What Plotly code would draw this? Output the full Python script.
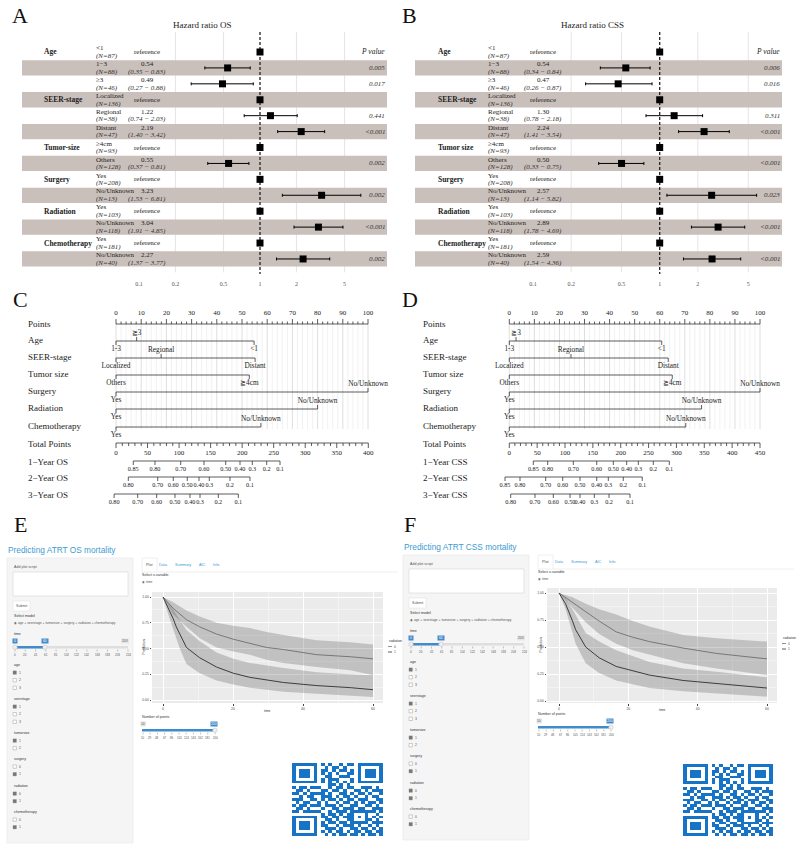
import plotly.graph_objects as go

W, H = 798, 850
SERIF = 'Liberation Serif'
SANS = 'Liberation Sans'

# ---------------------------------------------------------------- data
levels = ['<1', '1−3', '≥3', 'Localized', 'Regional', 'Distant', '≥4cm', 'Others',
          'Yes', 'No/Unknown', 'Yes', 'No/Unknown', 'Yes', 'No/Unknown']
n_obs = [87, 88, 46, 136, 38, 47, 93, 128, 208, 13, 103, 118, 181, 40]
var_first_row = [1, 4, 7, 9, 11, 13]
vars_A = ['Age', 'SEER-stage', 'Tumor-size', 'Surgery', 'Radiation', 'Chemotherapy']
vars_B = ['Age', 'SEER-stage', 'Tumor size', 'Surgery', 'Radiation', 'Chemotherapy']
hr_os = [1, 0.54, 0.49, 1, 1.22, 2.19, 1, 0.55, 1, 3.23, 1, 3.04, 1, 2.27]
lo_os = [None, 0.35, 0.27, None, 0.74, 1.40, None, 0.37, None, 1.53, None, 1.91, None, 1.37]
hi_os = [None, 0.83, 0.88, None, 2.03, 3.42, None, 0.81, None, 6.81, None, 4.85, None, 3.77]
p_os = ['', '0.005', '0.017', '', '0.441', '<0.001', '', '0.002', '', '0.002', '', '<0.001', '', '0.002']
hr_css = [1, 0.54, 0.47, 1, 1.30, 2.24, 1, 0.50, 1, 2.57, 1, 2.89, 1, 2.59]
lo_css = [None, 0.34, 0.26, None, 0.78, 1.41, None, 0.33, None, 1.14, None, 1.78, None, 1.54]
hi_css = [None, 0.84, 0.87, None, 2.18, 3.54, None, 0.75, None, 5.82, None, 4.69, None, 4.36]
p_css = ['', '0.006', '0.016', '', '0.311', '<0.001', '', '<0.001', '', '0.023', '', '<0.001', '', '<0.001']
hr_ticks = [0.1, 0.2, 0.5, 1, 2, 5]
hr_tick_text = ['0.1', '0.2', '0.5', '1', '2', '5']
hr_grid = [0.2, 0.5, 2, 5]

nom_vars = ['Age', 'SEER-stage', 'Tumor size', 'Surgery', 'Radiation', 'Chemotherapy']
nom_levels = [['1-3', '≧3', '<1'], ['Localized', 'Regional', 'Distant'], ['Others', '≧4cm'],
              ['Yes', 'No/Unknown'], ['Yes', 'No/Unknown'], ['Yes', 'No/Unknown']]
nom_pts_C = [[0, 8.2, 54.8], [0, 17.9, 55.2], [0, 52.9], [0, 100], [0, 80.0], [0, 57.5]]
nom_pts_D = [[0, 2.7, 60.8], [0, 24.6, 63.4], [0, 65.0], [0, 100], [0, 76.7], [0, 70.4]]
surv_lab9 = ['0.85', '0.80', '0.70', '0.60', '0.50', '0.40', '0.3', '0.2', '0.1']
surv_lab8 = ['0.80', '0.70', '0.60', '0.50', '0.40', '0.3', '0.2', '0.1']
os1_tot = [27.4, 61.8, 102.6, 139.5, 173.9, 196.6, 216.1, 238.9, 260.0]
os2_tot = [19.5, 66.1, 90.8, 113.0, 131.6, 147.9, 180.7, 212.4]
os3_tot = [-3.0, 34.4, 64.5, 93.5, 117.3, 133.2, 162.2, 193.9]
css1_tot = [43.1, 68.9, 114.9, 156.9, 186.7, 210.7, 231.6, 258.5, 287.2]
css2_tot = [-7.7, 19.2, 65.3, 95.9, 126.9, 156.9, 177.7, 204.6, 238.7]
css3_tot = [2.5, 46.1, 79.0, 109.0, 126.9, 152.6, 179.0, 216.7]

os_t_hi = [0, 2.9, 6.7, 10.5, 15.3, 20.1, 24.8, 29.6, 34.4, 43.9, 53.5, 60]
os_s_hi = [1.0, 0.89, 0.78, 0.71, 0.64, 0.59, 0.55, 0.51, 0.49, 0.44, 0.42, 0.40]
os_u_hi = [1.0, 0.95, 0.87, 0.81, 0.75, 0.72, 0.70, 0.66, 0.63, 0.58, 0.56, 0.54]
os_l_hi = [1.0, 0.83, 0.71, 0.60, 0.51, 0.47, 0.44, 0.39, 0.36, 0.32, 0.29, 0.24]
os_t_lo = [0, 1.0, 1.9, 2.9, 3.8, 4.8, 6.7, 10.5, 15.3, 20.1, 24.8, 34.4, 43.9, 53.5, 60]
os_s_lo = [1.0, 0.93, 0.86, 0.79, 0.71, 0.64, 0.51, 0.41, 0.32, 0.26, 0.22, 0.17, 0.14, 0.12, 0.10]
os_u_lo = [1.0, 0.96, 0.92, 0.88, 0.83, 0.78, 0.68, 0.57, 0.46, 0.40, 0.36, 0.31, 0.27, 0.25, 0.24]
os_l_lo = [1.0, 0.89, 0.79, 0.69, 0.59, 0.50, 0.35, 0.26, 0.19, 0.15, 0.12, 0.08, 0.06, 0.04, 0.03]
css_t_hi = [0, 3.9, 7.7, 11.6, 16.5, 21.3, 26.1, 35.8, 45.5, 60]
css_s_hi = [1.0, 0.91, 0.83, 0.74, 0.64, 0.59, 0.55, 0.49, 0.44, 0.39]
css_u_hi = [1.0, 0.96, 0.90, 0.85, 0.80, 0.74, 0.69, 0.61, 0.58, 0.55]
css_l_hi = [1.0, 0.86, 0.73, 0.62, 0.53, 0.47, 0.43, 0.35, 0.30, 0.24]
css_t_lo = [0, 1.9, 3.9, 4.8, 7.7, 11.6, 16.5, 26.1, 35.8, 45.5, 60]
css_s_lo = [1.0, 0.90, 0.74, 0.66, 0.50, 0.40, 0.32, 0.24, 0.19, 0.16, 0.12]
css_u_lo = [1.0, 0.95, 0.85, 0.80, 0.63, 0.55, 0.47, 0.36, 0.30, 0.27, 0.22]
css_l_lo = [1.0, 0.85, 0.63, 0.53, 0.35, 0.26, 0.19, 0.12, 0.09, 0.07, 0.04]
km_xticks = [0, 20, 40, 60]
km_yticks = [0, 0.25, 0.5, 0.75, 1.0]
km_ytext = ['0.00', '0.25', '0.50', '0.75', '1.00']

cb_groups = ['age', 'seerstage', 'tumorsize', 'surgery', 'radiation', 'chemotherapy']
cb_options = [['1', '2', '3'], ['1', '2', '3'], ['1', '2'], ['0', '1'], ['0', '1'], ['0', '1']]
cb_checked = [[1, 0, 0], [1, 0, 0], [1, 0], [0, 1], [1, 1], [0, 1]]
time_slider_labels = ['0', '20', '41', '61', '81', '102', '122', '142', '163', '183', '203', '224']
npts_slider_labels = ['10', '29', '48', '67', '86', '105', '124', '143', '162', '181', '200']
tabs = ['Plot', 'Data', 'Summary', 'AIC', 'Info']

qr_rows = [
    "1011010110100101101011010", "0110101101011010010110101", "1101100011010110101001011",
    "0010111010101001110110100", "1100101101100111001011011", "0111010010111000110100101",
    "1010101010101010101010101", "0101110100110101011010010", "1011011100101101100111010",
    "0110100011011010011010111", "1101011110100110101101001", "0010110011101011010010110",
    "1110011010110101101110011", "0101100101001011010101101", "1011011101110100110011010",
    "0110101010011011101100111", "1101110100101110010011101", "0100101110110101100010010",
    "1011010011011011010110101", "0110111001101001101101010", "1001010110110110010110111",
    "0111101011001011101001010", "1100110101110100110110101", "0011011010101101011011011",
    "1101101101010110110101101"]

# ---------------------------------------------------------------- helpers
def fx(x): return x / W
def fy(y): return 1 - y / H

fig = go.Figure()
ann, shp, lay = [], [], {}

def T(x, y, s, size=7, color='#222222', family=SERIF, xa='center', ya='middle', angle=0):
    ann.append(dict(x=fx(x), y=fy(y), xref='paper', yref='paper', text=s, showarrow=False,
                    xanchor=xa, yanchor=ya, textangle=angle, borderpad=0,
                    font=dict(size=size, color=color, family=family)))

def R(x0, y0, x1, y1, fill='rgba(0,0,0,0)', line=None, lw=0.6, layer='below'):
    shp.append(dict(type='rect', xref='paper', yref='paper', x0=fx(x0), x1=fx(x1), y0=fy(y1), y1=fy(y0),
                    fillcolor=fill, line=dict(color=line if line else 'rgba(0,0,0,0)', width=lw if line else 0),
                    layer=layer))

def L(x0, y0, x1, y1, color, lw=1, layer='above'):
    shp.append(dict(type='line', xref='paper', yref='paper', x0=fx(x0), x1=fx(x1), y0=fy(y0), y1=fy(y1),
                    line=dict(color=color, width=lw), layer=layer))

def an(p, k): return p if k == 1 else f'{p}{k}'

def add(tr):
    tr.update(hoverinfo='skip', showlegend=False)
    fig.add_trace(tr)

# ---------------------------------------------------------------- forest plots
ROW0, ROWH = 52.0, 15.92
def row_y(r): return ROW0 + (r - 1) * ROWH
R_TOP = 1 - (ROW0 - 32) / ROWH
R_BOT = 1 + (274 - ROW0) / ROWH
BAND = '#c9bfbb'

def forest(k, px0, px1, px_one, px_dec, hr, lo, hi, pv, varnames, c_var, c_lvl, c_est, c_p, title, title_x):
    xr, yr = an('x', k), an('y', k)
    lg0, lg1 = (px0 - px_one) / px_dec, (px1 - px_one) / px_dec
    v0, v1 = 10 ** lg0, 10 ** lg1
    rows = list(range(1, len(hr) + 1))
    gx, gy = [], []
    for g in hr_grid:
        gx += [g, g, None]; gy += [R_TOP, R_BOT - 0.1, None]
    add(go.Scatter(x=gx, y=gy, mode='lines', line=dict(color='#e4e4e4', width=1), xaxis=xr, yaxis=yr))
    bx, by = [], []
    for r in rows:
        if r % 2 == 0:
            bx += [v0, v1, v1, v0, v0, None]
            by += [r - 0.48, r - 0.48, r + 0.48, r + 0.48, r - 0.48, None]
    add(go.Scatter(x=bx, y=by, mode='lines', fill='toself', fillcolor=BAND, line=dict(width=0),
                   xaxis=xr, yaxis=yr))
    add(go.Scatter(x=[1, 1], y=[R_TOP, R_BOT], mode='lines', line=dict(color='#222', width=1.3, dash='3px,2px'),
                   xaxis=xr, yaxis=yr))
    ref_r = [r for r, l in zip(rows, lo) if l is None]
    add(go.Scatter(x=[1] * len(ref_r), y=ref_r, mode='markers', marker=dict(symbol='square', size=7, color='black'),
                   xaxis=xr, yaxis=yr))
    er = [r for r, l in zip(rows, lo) if l is not None]
    eh = [h for h, l in zip(hr, lo) if l is not None]
    el = [l for l in lo if l is not None]
    eu = [u for u in hi if u is not None]
    add(go.Scatter(x=eh, y=er, mode='markers', marker=dict(symbol='square', size=7, color='black'),
                   error_x=dict(type='data', symmetric=False, array=[u - h for u, h in zip(eu, eh)],
                                arrayminus=[h - l for h, l in zip(eh, el)], color='black', thickness=1, width=1.5),
                   xaxis=xr, yaxis=yr))
    lay[an('xaxis', k)] = dict(type='log', range=[lg0, lg1], domain=[fx(px0), fx(px1)], anchor=yr,
                               tickvals=hr_ticks, ticktext=hr_tick_text, showgrid=False, zeroline=False,
                               showline=False, ticks='', ticklabelstandoff=5,
                               tickfont=dict(size=6, family=SERIF, color='#555'))
    lay[an('yaxis', k)] = dict(range=[R_BOT, R_TOP], domain=[fy(274), fy(32)], anchor=xr, visible=False)
    T(title_x, 25, title, size=9)
    for i, r in enumerate(rows):
        y = row_y(r)
        T(c_lvl, y - 3.8, levels[i], size=7, xa='left')
        T(c_lvl, y + 3.8, f'<i>(N={n_obs[i]})</i>', size=7, xa='left', color='#333')
        if lo[i] is None:
            T(c_est, y, 'reference', size=7)
        else:
            T(c_est, y - 3.8, f'{hr[i]:.2f}', size=7)
            T(c_est, y + 3.8, f'<i>({lo[i]:.2f} − {hi[i]:.2f})</i>', size=7, color='#333')
        if pv[i]:
            T(c_p, y, f'<i>{pv[i]}</i>', size=7, xa='right', color='#333')
    T(c_p, row_y(1), '<i>P value</i>', size=7.5, xa='right')
    for name, r in zip(varnames, var_first_row):
        T(c_var, row_y(r), f'<b>{name}</b>', size=7.5, xa='left')

forest(1, 22, 387, 260, 121, hr_os, lo_os, hi_os, p_os, vars_A, 43, 95, 147, 386, 'Hazard ratio OS', 202)
forest(2, 415, 782, 659.7, 126.7, hr_css, lo_css, hi_css, p_css, vars_B, 437, 487, 543, 781, 'Hazard ratio CSS', 592)

# ---------------------------------------------------------------- nomograms
NY = dict(points=324, total=443)
VAR_Y = [341, 358, 375, 392, 409, 427]
SURV_Y = [461, 477, 494]
SIDES = [['b', 'a', 'b'], ['b', 'a', 'b'], ['b', 'b'], ['b', 'a'], ['b', 'a'], ['b', 'a']]

def txt(xa, ya, xs, ys, ts, size=7.5, color='#222'):
    add(go.Scatter(x=xs, y=ys, text=ts, mode='text', textposition='middle center', cliponaxis=False,
                   textfont=dict(size=size, family=SERIF, color=color), xaxis=xa, yaxis=ya))

def lines(xa, ya, segs, color='#222', lw=0.8):
    xs, ys = [], []
    for (x0, y0, x1, y1) in segs:
        xs += [x0, x1, None]; ys += [y0, y1, None]
    add(go.Scatter(x=xs, y=ys, mode='lines', line=dict(color=color, width=lw), xaxis=xa, yaxis=ya))

def nomogram(kp, kt, ky, p0, p100, tmax, tmax_px, lab_x, pts, tmajor, surv_tot, surv_labs, surv_names):
    left, right = p0 - 18, p100 + 24
    ppp = (p100 - p0) / 100.0
    ppt = (tmax_px - p0) / tmax
    xp, xt, yy = an('x', kp), an('x', kt), an('y', ky)
    dom = [fx(left), fx(right)]
    lay[an('xaxis', kp)] = dict(domain=dom, range=[(left - p0) / ppp, (right - p0) / ppp], anchor=yy, visible=False)
    lay[an('xaxis', kt)] = dict(domain=dom, range=[(left - p0) / ppt, (right - p0) / ppt], anchor=yy,
                                overlaying=xp, visible=False)
    lay[an('yaxis', ky)] = dict(domain=[fy(512), fy(300)], range=[512, 300], anchor=xp, visible=False)
    # grid
    lines(xp, yy, [(v, NY['points'], v, 429) for v in range(0, 101, 2) if v % 10], color='#eeeeee', lw=0.8)
    lines(xp, yy, [(v, NY['points'], v, 429) for v in range(0, 101, 10)], color='#d6d6d6', lw=0.8)
    # points axis
    yP = NY['points']
    lines(xp, yy, [(0, yP, 100, yP)] + [(v, yP, v, yP - 5) for v in range(0, 101, 10)]
          + [(v, yP, v, yP - 2.5) for v in range(0, 101, 2) if v % 10], color='#333', lw=0.8)
    txt(xp, yy, list(range(0, 101, 10)), [yP - 11] * 11, [str(v) for v in range(0, 101, 10)], size=7)
    T(lab_x, yP, 'Points', size=9, xa='left')
    # predictors
    for i, name in enumerate(nom_vars):
        y = VAR_Y[i]
        segs = [(min(pts[i]), y, max(pts[i]), y)]
        tx, ty = [], []
        for v, s in zip(pts[i], SIDES[i]):
            if s == 'a':
                segs.append((v, y, v, y - 4)); ty.append(y - 8)
            else:
                segs.append((v, y, v, y + 4)); ty.append(y + 8.5)
            tx.append(v)
        lines(xp, yy, segs, color='#333', lw=0.8)
        txt(xp, yy, tx, ty, nom_levels[i], size=7.3)
        T(lab_x, y - 1, name, size=9, xa='left')
    # total points axis
    yT = NY['total']
    tv = list(range(0, tmax + 1, tmajor))
    lines(xt, yy, [(0, yT, tmax, yT)] + [(v, yT, v, yT + 5) for v in tv]
          + [(v, yT, v, yT + 3) for v in range(0, tmax + 1, 10) if v % tmajor], color='#333', lw=0.8)
    txt(xt, yy, tv, [yT + 10] * len(tv), [str(v) for v in tv], size=7)
    T(lab_x, yT + 1, 'Total Points', size=9, xa='left')
    for j in range(3):
        y = SURV_Y[j]
        vals = surv_tot[j]
        lines(xt, yy, [(min(vals), y, max(vals), y)] + [(v, y, v, y + 4) for v in vals], color='#333', lw=0.8)
        txt(xt, yy, vals, [y + 8.5] * len(vals), surv_labs[j], size=6.2)
        T(lab_x, y + 1, surv_names[j], size=9, xa='left')

nomogram(3, 4, 3, 116, 368, 400, 368.3, 27, nom_pts_C, 50,
         [os1_tot, os2_tot, os3_tot], [surv_lab9, surv_lab8, surv_lab8],
         ['1−Year OS', '2−Year OS', '3−Year OS'])
nomogram(5, 6, 5, 509.3, 760, 450, 760, 422, nom_pts_D, 50,
         [css1_tot, css2_tot, css3_tot], [surv_lab9, surv_lab9, surv_lab8],
         ['1−Year CSS', '2−Year CSS', '3−Year CSS'])

# ---------------------------------------------------------------- shiny panels
BLUE = '#3d9bd0'
SL_BLUE = '#428bca'
UI = '#555555'

def shiny(dx, dy, title, legend_x):
    X = lambda x: x + dx
    Y = lambda y: y + dy
    T(X(7), Y(550), title, size=8.3, color=BLUE, family=SANS, xa='left')
    R(X(7), Y(558), X(133), Y(843), fill='#f5f5f5', line='#e6e6e6', lw=0.6)
    T(X(13), Y(567), 'Add plot script', size=3.6, family=SANS, xa='left', color=UI)
    R(X(13), Y(572), X(128), Y(596), fill='white', line='#cccccc', lw=0.5)
    R(X(13), Y(601), X(30), Y(611), fill='white', line='#dddddd', lw=0.5)
    T(X(21.5), Y(606), 'Submit', size=3.6, family=SANS, color=UI)
    T(X(13), Y(616), 'Select model', size=3.6, family=SANS, xa='left', color='#333')
    T(X(13), Y(623), '◉ age + seerstage + tumorsize + surgery + radiation + chemotherapy', size=3.3,
      family=SANS, xa='left', color=UI)
    T(X(13), Y(634), 'time', size=3.6, family=SANS, xa='left', color='#333')
    # time slider
    R(X(15), Y(646), X(128), Y(648.5), fill='#dedede')
    R(X(15), Y(646), X(45), Y(648.5), fill=SL_BLUE)
    R(X(12.5), Y(638.5), X(17.5), Y(643.5), fill=SL_BLUE); T(X(15), Y(641), '0', size=3.3, family=SANS, color='white')
    R(X(41.5), Y(638.5), X(48.5), Y(643.5), fill=SL_BLUE); T(X(45), Y(641), '60', size=3.3, family=SANS, color='white')
    R(X(121), Y(638.5), X(129), Y(643.5), fill='#e6e6e6'); T(X(125), Y(641), '203', size=3.3, family=SANS, color=UI)
    n = len(time_slider_labels)
    for i, s in enumerate(time_slider_labels):
        xx = 15 + i * (128 - 15) / (n - 1)
        L(X(xx), Y(649.5), X(xx), Y(651.5), '#888', lw=0.5)
        T(X(xx), Y(654.5), s, size=3.0, family=SANS, color=UI)
    for hx in (15, 45):
        shp.append(dict(type='circle', xref='paper', yref='paper', x0=fx(X(hx) - 2.2), x1=fx(X(hx) + 2.2),
                        y0=fy(Y(647.2) + 2.2), y1=fy(Y(647.2) - 2.2), fillcolor='#f0f0f0',
                        line=dict(color='#bbbbbb', width=0.5), layer='above'))
    # checkbox groups
    gy = [665, 699, 733, 759, 786, 812]
    for g, name in enumerate(cb_groups):
        T(X(13), Y(gy[g]), name, size=3.6, family=SANS, xa='left', color='#333')
        for j, opt in enumerate(cb_options[g]):
            yy = gy[g] + 7.6 * (j + 1)
            R(X(13), Y(yy) - 1.7, X(16.4), Y(yy) + 1.7, fill='#777777' if cb_checked[g][j] else 'white',
              line='#888888', lw=0.4, layer='above')
            T(X(18), Y(yy), opt, size=3.4, family=SANS, xa='left', color=UI)
    # tabs
    R(X(142), Y(558), X(157), Y(572), fill='white', line='#dddddd', lw=0.5)
    L(X(157), Y(572), X(398), Y(572), '#dddddd', lw=0.5)
    for s, tx in zip(tabs, [149.5, 163.5, 183, 202, 216]):
        T(X(tx), Y(565), s, size=3.8, family=SANS, color='#555' if s == 'Plot' else BLUE)
    T(X(141), Y(574.5), 'Select x-variable', size=3.6, family=SANS, xa='left', color='#333')
    T(X(141), Y(582), '◉ time', size=3.4, family=SANS, xa='left', color=UI)
    # number of points slider
    T(X(141), Y(717), 'Number of points', size=3.6, family=SANS, xa='left', color='#333')
    R(X(142), Y(729), X(216), Y(731.5), fill=SL_BLUE)
    R(X(140.5), Y(721.5), X(146), Y(726.5), fill='#e6e6e6'); T(X(143.2), Y(724), '10', size=3.3, family=SANS, color=UI)
    R(X(210.5), Y(721.5), X(217.5), Y(726.5), fill=SL_BLUE); T(X(214), Y(724), '200', size=3.3, family=SANS, color='white')
    n = len(npts_slider_labels)
    for i, s in enumerate(npts_slider_labels):
        xx = 143 + i * (215 - 143) / (n - 1)
        L(X(xx), Y(732.5), X(xx), Y(734.5), '#888', lw=0.5)
        T(X(xx), Y(737.5), s, size=2.9, family=SANS, color=UI)
    shp.append(dict(type='circle', xref='paper', yref='paper', x0=fx(X(215) - 2.2), x1=fx(X(215) + 2.2),
                    y0=fy(Y(730.2) + 2.2), y1=fy(Y(730.2) - 2.2), fillcolor='#f0f0f0',
                    line=dict(color='#bbbbbb', width=0.5), layer='above'))
    # legend of KM
    T(legend_x, Y(641), 'radiation', size=3.4, family=SANS, xa='left', color='#333')
    L(legend_x, Y(646.5), legend_x + 4, Y(646.5), '#777', lw=0.8)
    T(legend_x + 5, Y(646.5), '0', size=3.3, family=SANS, xa='left', color=UI)
    L(legend_x, Y(652), legend_x + 4, Y(652), '#333', lw=0.8)
    T(legend_x + 5, Y(652), '1', size=3.3, family=SANS, xa='left', color=UI)

shiny(0, 0, 'Predicting ATRT OS mortality', 388)
shiny(396, -3, 'Predicting ATRT CSS mortality', 782)

def km(k, dx0, dx1, t0px, t60px, dy0, dy1, s1px, s0px, groups, ylab_x, xlab_y):
    xr, yr = an('x', k), an('y', k)
    pxt = (t60px - t0px) / 60.0
    pxs = (s0px - s1px) / 1.0
    lay[an('xaxis', k)] = dict(domain=[fx(dx0), fx(dx1)], range=[(dx0 - t0px) / pxt, (dx1 - t0px) / pxt],
                               anchor=yr, tickvals=km_xticks, showgrid=True, gridcolor='white', gridwidth=0.8,
                               minor=dict(tickvals=[10, 30, 50], showgrid=True, gridcolor='#f3f3f3', gridwidth=0.5),
                               zeroline=False, showline=False, ticks='outside', ticklen=1.5, tickcolor='#444',
                               tickwidth=0.5, tickfont=dict(size=3.4, family=SANS, color='#4d4d4d'))
    lay[an('yaxis', k)] = dict(domain=[fy(dy1), fy(dy0)], range=[(s0px - dy1) / pxs, (s0px - dy0) / pxs],
                               anchor=xr, tickvals=km_yticks, ticktext=km_ytext, showgrid=True, gridcolor='white',
                               gridwidth=0.8,
                               minor=dict(tickvals=[0.125, 0.375, 0.625, 0.875], showgrid=True, gridcolor='#f3f3f3',
                                          gridwidth=0.5),
                               zeroline=False, showline=False, ticks='outside', ticklen=1.5, tickcolor='#444',
                               tickwidth=0.5, tickfont=dict(size=3.4, family=SANS, color='#4d4d4d'))
    R(dx0, dy0, dx1, dy1, fill='#ebebeb')
    for (t, s, u, l, col) in groups:
        add(go.Scatter(x=t + t[::-1], y=u + l[::-1], mode='lines', fill='toself',
                       fillcolor='rgba(80,80,80,0.27)', line=dict(width=0), xaxis=xr, yaxis=yr))
    for (t, s, u, l, col) in groups:
        add(go.Scatter(x=t, y=s, mode='lines', line=dict(color=col, width=0.9), xaxis=xr, yaxis=yr))
    T(ylab_x, (dy0 + dy1) / 2, 'Prediction', size=3.4, family=SANS, angle=-90, color='#333')
    T((dx0 + dx1) / 2, xlab_y, 'time', size=3.4, family=SANS, color='#333')

km(7, 152, 383, 163, 373, 592, 703, 597, 700,
   [(os_t_hi, os_s_hi, os_u_hi, os_l_hi, '#6e6e6e'), (os_t_lo, os_s_lo, os_u_lo, os_l_lo, '#2e2e2e')], 143, 711)
km(8, 547, 777, 559, 767, 588, 703, 593, 701,
   [(css_t_hi, css_s_hi, css_u_hi, css_l_hi, '#6e6e6e'), (css_t_lo, css_s_lo, css_u_lo, css_l_lo, '#2e2e2e')], 540, 710)

# ---------------------------------------------------------------- QR codes
def qr_matrix():
    M = [[int(c) for c in s[:25].ljust(25, '0')] for s in qr_rows]
    def finder(r0, c0):
        for i in range(-1, 8):
            for j in range(-1, 8):
                r, c = r0 + i, c0 + j
                if 0 <= r < 25 and 0 <= c < 25:
                    if i in (-1, 7) or j in (-1, 7):
                        M[r][c] = 0
                    elif i in (0, 6) or j in (0, 6) or (2 <= i <= 4 and 2 <= j <= 4):
                        M[r][c] = 1
                    else:
                        M[r][c] = 0
    finder(0, 0); finder(0, 18); finder(18, 0)
    for i in range(8, 17):
        M[6][i] = 1 - i % 2
        M[i][6] = 1 - i % 2
    for i in range(16, 21):
        for j in range(16, 21):
            M[i][j] = 1 if (i in (16, 20) or j in (16, 20) or (i == 18 and j == 18)) else 0
    return M

QR = qr_matrix()
for k, (x0, x1, y0, y1) in zip([9, 10], [(292, 383, 763, 836), (683, 773, 764, 836)]):
    xr, yr = an('x', k), an('y', k)
    add(go.Heatmap(z=QR, colorscale=[[0, 'white'], [1, '#1673c6']], zmin=0, zmax=1, showscale=False,
                   xaxis=xr, yaxis=yr))
    lay[an('xaxis', k)] = dict(domain=[fx(x0), fx(x1)], range=[-0.5, 24.5], anchor=yr, visible=False)
    lay[an('yaxis', k)] = dict(domain=[fy(y1), fy(y0)], range=[24.5, -0.5], anchor=xr, visible=False)

# ---------------------------------------------------------------- panel letters
for s, x, y in [('A', 20, 16), ('B', 409, 16), ('C', 20, 299), ('D', 410, 299), ('E', 20, 524), ('F', 410, 524)]:
    T(x, y, s, size=22, family=SERIF, color='#111')

fig.update_layout(width=W, height=H, margin=dict(l=0, r=0, t=0, b=0), paper_bgcolor='white',
                  plot_bgcolor='rgba(0,0,0,0)', showlegend=False, annotations=ann, shapes=shp, **lay)
fig.write_html('out.html')
